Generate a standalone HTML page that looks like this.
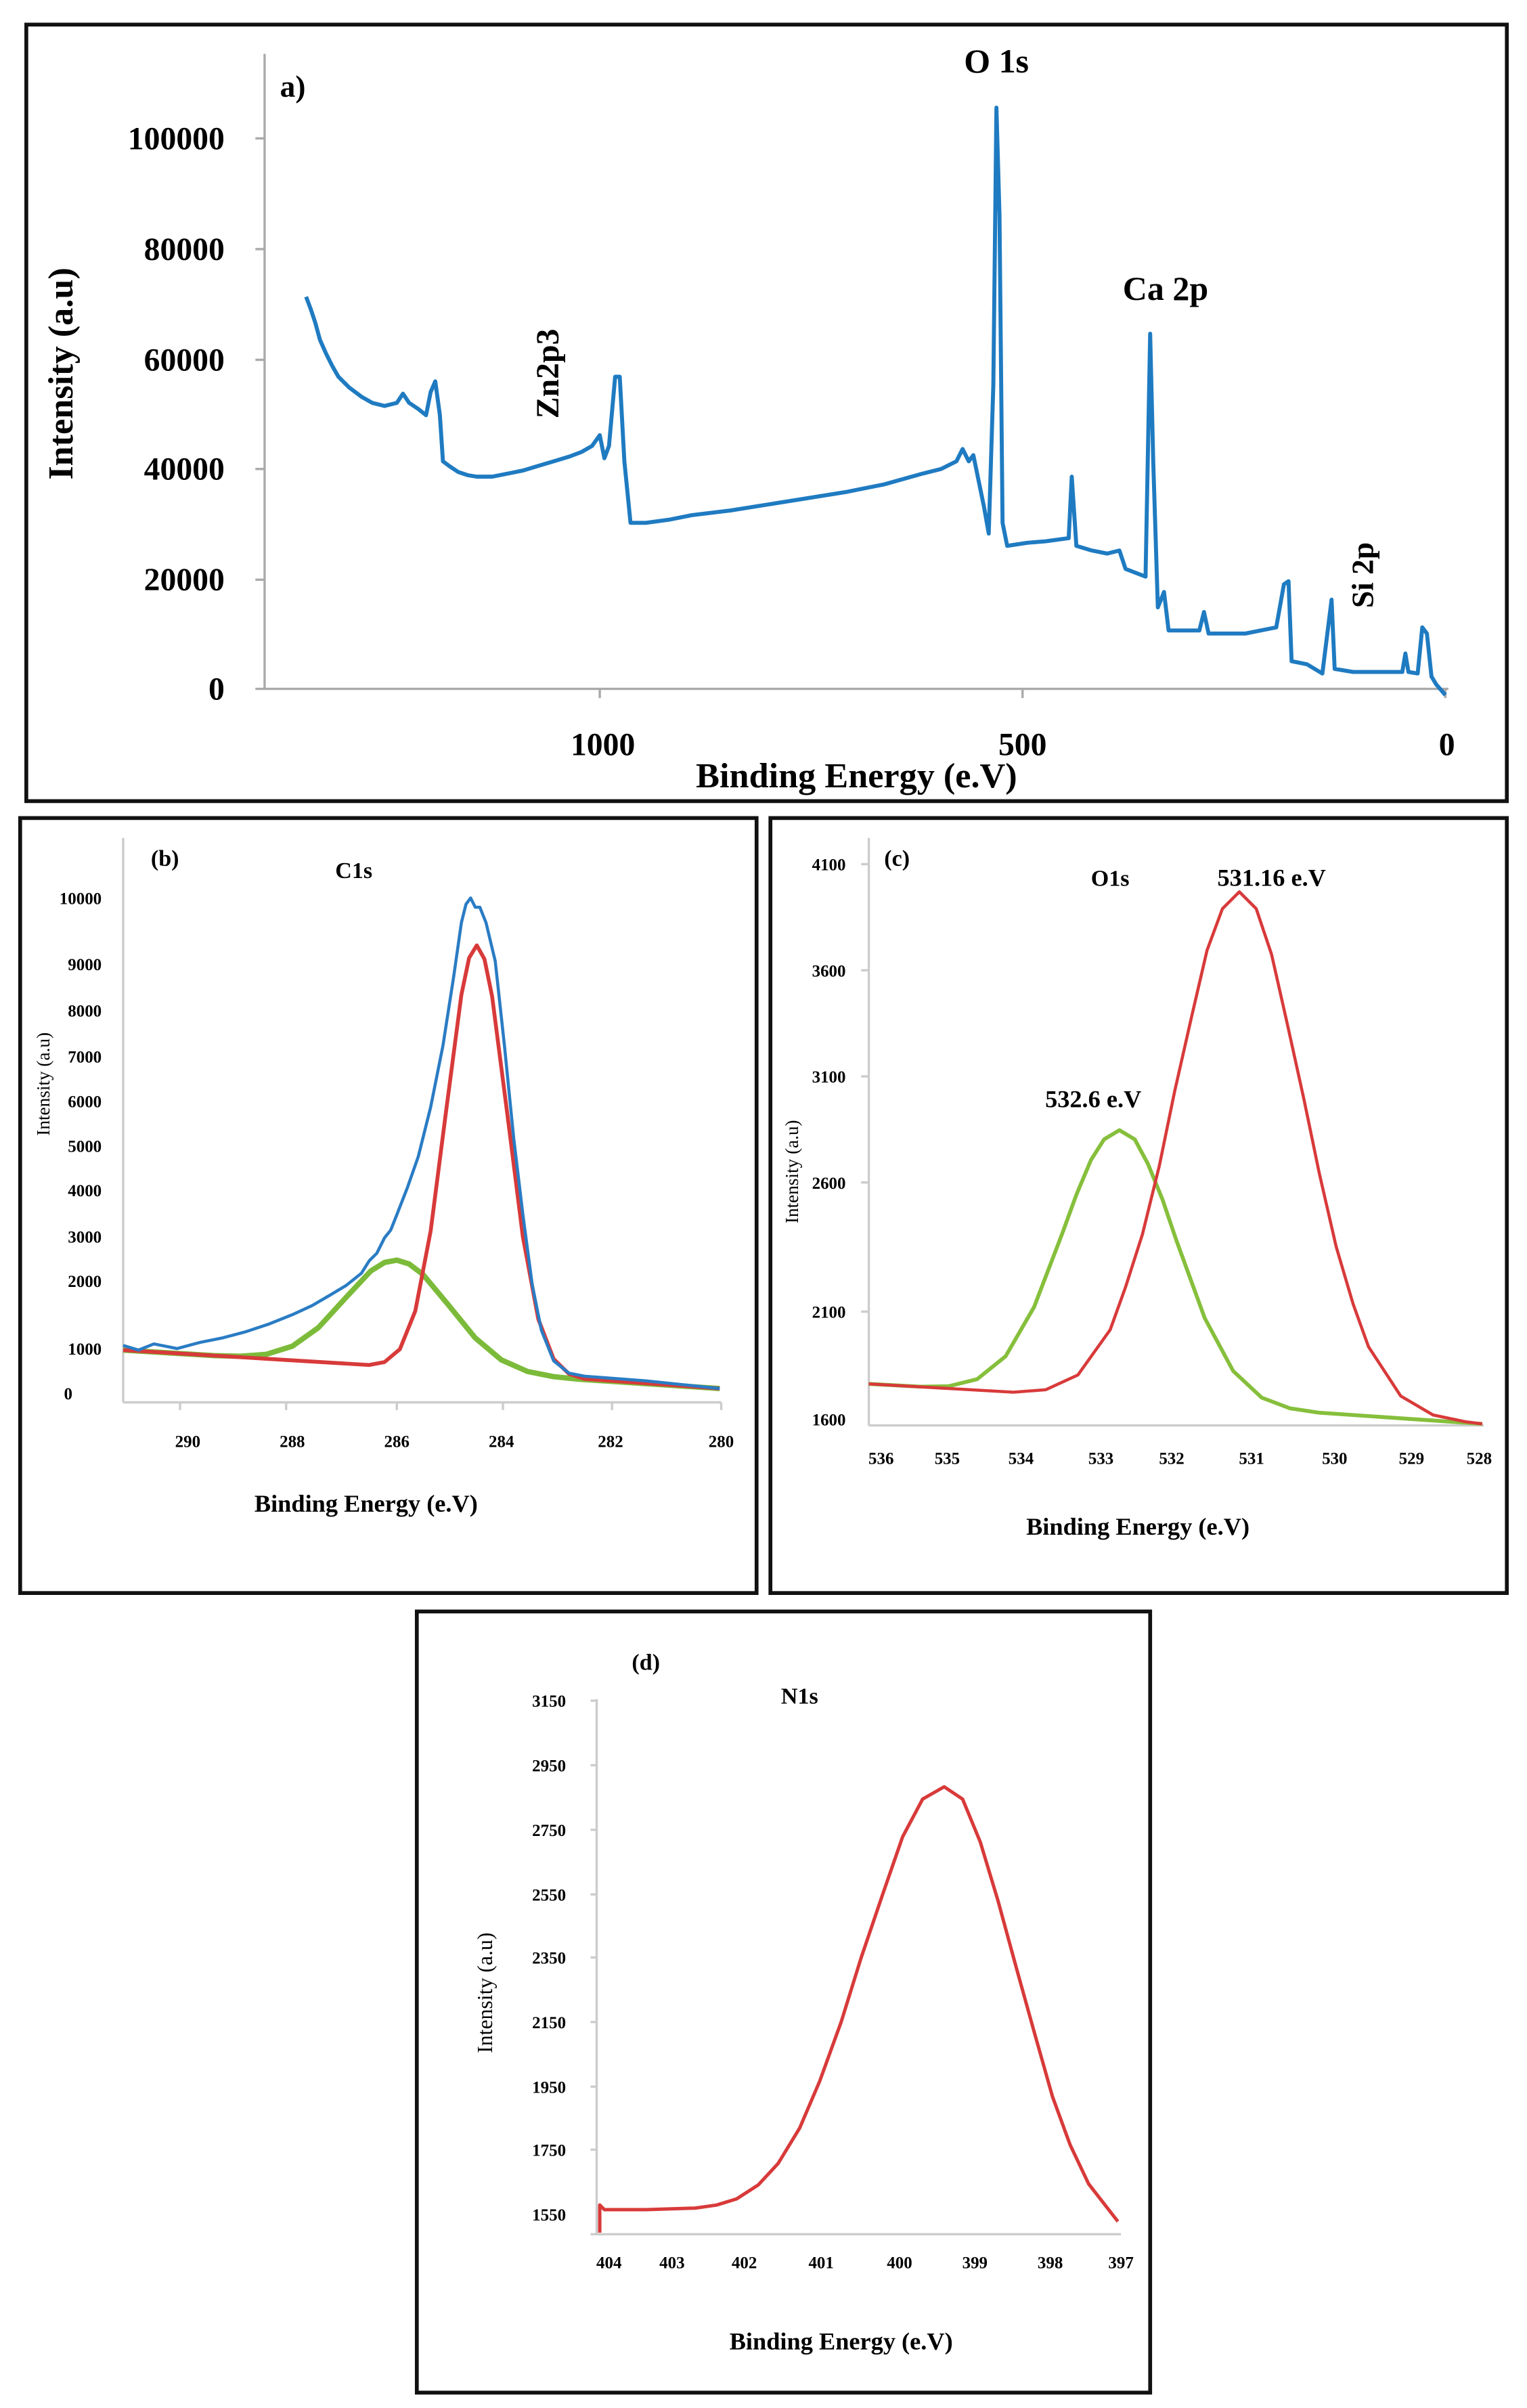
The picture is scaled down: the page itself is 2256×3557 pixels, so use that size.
<!DOCTYPE html>
<html><head><meta charset="utf-8"><style>
html,body{margin:0;padding:0;background:#fff}
svg{display:block}
text{font-family:"Liberation Serif",serif;font-weight:bold;fill:#000}
</style></head><body>
<svg width="2256" height="3557" viewBox="0 0 993 1566" xmlns="http://www.w3.org/2000/svg">
<rect x="0" y="0" width="993" height="1566" fill="#fff"/>
<rect x="17" y="16" width="963" height="505" fill="none" stroke="#111" stroke-width="2.5"/>
<rect x="13" y="532" width="479" height="504" fill="none" stroke="#111" stroke-width="2.5"/>
<rect x="501" y="532" width="479" height="504" fill="none" stroke="#111" stroke-width="2.5"/>
<rect x="271" y="1048" width="477" height="508" fill="none" stroke="#111" stroke-width="2.5"/>

<!-- Panel a -->
<g stroke="#aaa" stroke-width="1.5" fill="none">
<line x1="172" y1="35" x2="172" y2="448"/><line x1="166" y1="448" x2="942" y2="448"/>
<line x1="166" y1="90" x2="172" y2="90"/><line x1="166" y1="162" x2="172" y2="162"/><line x1="166" y1="234" x2="172" y2="234"/><line x1="166" y1="305" x2="172" y2="305"/><line x1="166" y1="377" x2="172" y2="377"/>
<line x1="390" y1="448" x2="390" y2="454"/><line x1="665" y1="448" x2="665" y2="454"/><line x1="940" y1="448" x2="940" y2="454"/>
</g>
<g font-size="21" text-anchor="end">
<text x="146" y="97">100000</text><text x="146" y="169">80000</text><text x="146" y="241">60000</text><text x="146" y="312">40000</text><text x="146" y="384">20000</text><text x="146" y="455">0</text>
</g>
<g font-size="21" text-anchor="middle">
<text x="392" y="491">1000</text><text x="665" y="491">500</text><text x="941" y="491">0</text>
</g>
<text x="557" y="512" font-size="23" text-anchor="middle">Binding Energy (e.V)</text>
<text transform="translate(47,243) rotate(-90)" font-size="23" text-anchor="middle">Intensity (a.u)</text>
<text x="182" y="63" font-size="20">a)</text>
<text x="648" y="47" font-size="22" text-anchor="middle">O 1s</text>
<text x="758" y="195" font-size="22" text-anchor="middle">Ca 2p</text>
<text transform="translate(363,243) rotate(-90)" font-size="21" text-anchor="middle">Zn2p3</text>
<text transform="translate(893,374) rotate(-90)" font-size="20" text-anchor="middle">Si 2p</text>
<polyline fill="none" stroke="#1f7bc1" stroke-width="2.6" stroke-linejoin="round" points="199,193 202,201 205,210 208,221 212,230 216,238 220,245 227,252 235,258 242,262 250,264 258,262 262,256 266,262 272,266 277,270 280,255 283,248 286,270 288,300 292,303 298,307 304,309 310,310 320,310 330,308 340,306 350,303 360,300 370,297 378,294 385,290 390,283 393,298 396,290 400,245 403,245 406,300 410,340 420,340 435,338 450,335 475,332 500,328 525,324 550,320 575,315 600,308 612,305 622,300 626,292 630,300 633,296 640,330 643,347 646,250 648,70 650,140 652,340 655,355 668,353 680,352 695,350 697,310 700,355 710,358 720,360 728,358 732,370 745,375 748,217 750,300 753,395 757,385 760,410 770,410 780,410 783,398 786,412 798,412 810,412 820,410 830,408 835,380 838,378 840,430 850,432 860,438 866,390 868,435 880,437 896,437 912,437 914,425 916,437 922,438 925,408 928,412 931,440 934,445 940,452"/>

<!-- Panel b -->
<g stroke="#ccc" stroke-width="1.5" fill="none">
<line x1="80" y1="545" x2="80" y2="912"/><line x1="80" y1="912" x2="469" y2="912"/>
<line x1="117" y1="912" x2="117" y2="917"/><line x1="186" y1="912" x2="186" y2="917"/><line x1="258" y1="912" x2="258" y2="917"/><line x1="327" y1="912" x2="327" y2="917"/><line x1="398" y1="912" x2="398" y2="917"/><line x1="469" y1="912" x2="469" y2="917"/>
</g>
<g font-size="11" text-anchor="end">
<text x="66" y="588">10000</text><text x="66" y="631">9000</text><text x="66" y="661">8000</text><text x="66" y="691">7000</text><text x="66" y="720">6000</text><text x="66" y="749">5000</text><text x="66" y="778">4000</text><text x="66" y="808">3000</text><text x="66" y="837">2000</text><text x="66" y="881">1000</text><text x="47" y="910">0</text>
</g>
<g font-size="11" text-anchor="middle">
<text x="122" y="941">290</text><text x="190" y="941">288</text><text x="258" y="941">286</text><text x="326" y="941">284</text><text x="397" y="941">282</text><text x="469" y="941">280</text>
</g>
<text x="238" y="983" font-size="16" text-anchor="middle">Binding Energy (e.V)</text>
<text transform="translate(32,705) rotate(-90)" font-size="12" text-anchor="middle" style="font-weight:normal">Intensity (a.u)</text>
<text x="98" y="563" font-size="15">(b)</text>
<text x="230" y="571" font-size="15" text-anchor="middle">C1s</text>
<polyline fill="none" stroke="#7cbb3a" stroke-width="3.5" stroke-linejoin="round" points="80,878 139,881.6 156,882 173,880.8 190,875.5 207,863.4 224,844.8 241,826.6 250,821 258,819.5 266,822 275,828.8 292,849.2 309,870.1 326,884.4 343,891.9 360,895.3 377,897 468,903"/>
<polyline fill="none" stroke="#d83a3a" stroke-width="2.5" stroke-linejoin="round" points="80,878 240,887.7 250,885.8 260,877.4 270,852.6 280,800.6 290,722.9 300,646.9 305,623 310,614.8 315,623.7 320,648.1 330,725.5 340,804.4 350,857.8 360,883.8 370,893.5 380,896.7 468,903"/>
<polyline fill="none" stroke="#2a7cc4" stroke-width="2" stroke-linejoin="round" points="80,875 90,878 100,874 115,877 130,873 145,870 160,866 175,861 190,855 203,849 215,842 225,836 235,828 240,820 245,815 250,805 254,800 258,790 265,772 272,752 280,720 288,680 295,635 300,600 303,588 306,584 309,590 312,590 316,600 322,625 328,680 334,740 340,790 346,835 352,865 360,885 370,893 380,895 420,898 468,903"/>

<!-- Panel c -->
<g stroke="#ccc" stroke-width="1.5" fill="none">
<line x1="565" y1="545" x2="565" y2="927"/><line x1="565" y1="927" x2="965" y2="927"/>
<line x1="565" y1="562" x2="560" y2="562"/><line x1="565" y1="631" x2="560" y2="631"/><line x1="565" y1="700" x2="560" y2="700"/><line x1="565" y1="769" x2="560" y2="769"/><line x1="565" y1="853" x2="560" y2="853"/>
</g>
<g font-size="11" text-anchor="end">
<text x="550" y="566">4100</text><text x="550" y="635">3600</text><text x="550" y="704">3100</text><text x="550" y="773">2600</text><text x="550" y="857">2100</text><text x="550" y="927">1600</text>
</g>
<g font-size="11" text-anchor="middle">
<text x="573" y="952">536</text><text x="616" y="952">535</text><text x="664" y="952">534</text><text x="716" y="952">533</text><text x="762" y="952">532</text><text x="814" y="952">531</text><text x="868" y="952">530</text><text x="918" y="952">529</text><text x="962" y="952">528</text>
</g>
<text x="740" y="998" font-size="16" text-anchor="middle">Binding Energy (e.V)</text>
<text transform="translate(519,762) rotate(-90)" font-size="12" text-anchor="middle" style="font-weight:normal">Intensity (a.u)</text>
<text x="575" y="563" font-size="15">(c)</text>
<text x="722" y="576" font-size="15" text-anchor="middle">O1s</text>
<text x="827" y="576" font-size="16" text-anchor="middle">531.16 e.V</text>
<text x="711" y="720" font-size="16" text-anchor="middle">532.6 e.V</text>
<polyline fill="none" stroke="#86bf3c" stroke-width="2.5" stroke-linejoin="round" points="565,900 598.5,901.8 617,901.5 635.5,896.9 654,882 672.5,850 691,801.7 700,777 709.5,754.4 718,741 728,735 738,741 746.5,756.8 756,780 765,806.5 783.5,857.2 802,891.6 820.5,908.9 839,915.9 857.5,918.7 964,926"/>
<polyline fill="none" stroke="#d83a3a" stroke-width="2" stroke-linejoin="round" points="565,900 659,905.4 680,903.8 701,894.2 722,864.8 732,837 743,802.6 754,758 764,709.4 775,661 785,618 795,591 806,580 817,591 827,620.8 837,665 848,714.8 858,763 869,810.8 880,848 890,875.8 911,907.9 932,920.2 953,924.6 964,926"/>

<!-- Panel d -->
<g stroke="#ccc" stroke-width="1.5" fill="none">
<line x1="388" y1="1105" x2="388" y2="1453"/><line x1="384" y1="1453" x2="729" y2="1453"/>
<line x1="384" y1="1106" x2="388" y2="1106"/><line x1="384" y1="1148" x2="388" y2="1148"/><line x1="384" y1="1190" x2="388" y2="1190"/><line x1="384" y1="1232" x2="388" y2="1232"/><line x1="384" y1="1273" x2="388" y2="1273"/><line x1="384" y1="1315" x2="388" y2="1315"/><line x1="384" y1="1357" x2="388" y2="1357"/><line x1="384" y1="1398" x2="388" y2="1398"/>
</g>
<g font-size="11" text-anchor="end">
<text x="368" y="1110">3150</text><text x="368" y="1152">2950</text><text x="368" y="1194">2750</text><text x="368" y="1236">2550</text><text x="368" y="1277">2350</text><text x="368" y="1319">2150</text><text x="368" y="1361">1950</text><text x="368" y="1402">1750</text><text x="368" y="1444">1550</text>
</g>
<g font-size="11" text-anchor="middle">
<text x="396" y="1475">404</text><text x="437" y="1475">403</text><text x="484" y="1475">402</text><text x="534" y="1475">401</text><text x="585" y="1475">400</text><text x="634" y="1475">399</text><text x="683" y="1475">398</text><text x="729" y="1475">397</text>
</g>
<text x="547" y="1528" font-size="16" text-anchor="middle">Binding Energy (e.V)</text>
<text transform="translate(320,1296) rotate(-90)" font-size="14" text-anchor="middle" style="font-weight:normal">Intensity (a.u)</text>
<text x="420" y="1086" font-size="15" text-anchor="middle">(d)</text>
<text x="520" y="1108" font-size="15" text-anchor="middle">N1s</text>
<polyline fill="none" stroke="#d83a3a" stroke-width="2.2" stroke-linejoin="round" points="390,1452 390,1434 393,1437 420,1437 452,1436 466,1434 479,1430 493,1421 506,1407 520,1384 533,1353.6 547,1315 560,1273.2 574,1232 587,1194.5 600,1170 614,1162 626,1170 637.5,1197.9 649,1236 661,1279.9 673,1323 684.5,1363.6 696,1395 708,1420.3 727,1444.7"/>
</svg>
</body></html>
